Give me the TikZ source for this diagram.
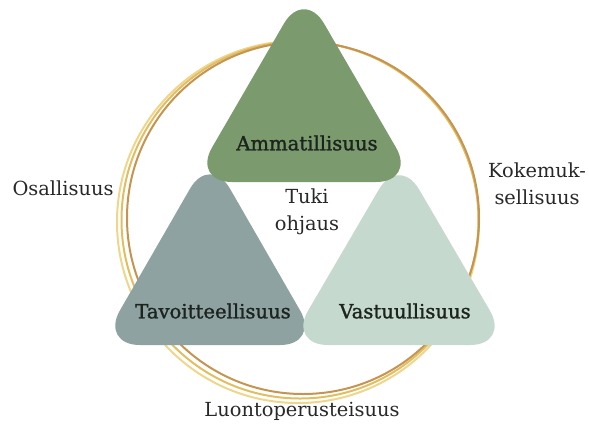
\documentclass[tikz,border=0pt]{standalone}
\usepackage{fontspec}
\setmainfont{DejaVu Serif}
\newfontfamily\labfont{DejaVu Serif}[FakeBold=1.3]
\usetikzlibrary{positioning}
\definecolor{ammcol}{RGB}{123, 154, 110}
\definecolor{tavcol}{RGB}{143, 162, 162}
\definecolor{vascol}{RGB}{198, 217, 206}
\definecolor{goldcol}{RGB}{226, 190, 98}
\definecolor{darkgold}{RGB}{196, 148, 80}
\definecolor{palegold}{RGB}{238, 214, 140}
\definecolor{txtcol}{RGB}{40, 40, 40}
\definecolor{labcol}{RGB}{28, 36, 30}
\tikzset{
  tri/.style    = {rounded corners=20pt, draw=none},
  strand/.style = {line width=1pt},
  lab/.style    = {font=\labfont\fontsize{9.8}{11}\selectfont, text=labcol,
                   inner sep=1pt},
  outer/.style  = {font=\fontsize{9.7}{13.5}\selectfont, text=txtcol,
                   align=center, inner sep=1pt},
}
\begin{document}
\begin{tikzpicture}[x=0.5pt, y=-0.5pt]
  \useasboundingbox (0,0) rectangle (589,425);

  %% the ring behind everything
  \draw[strand, palegold] (298,222) circle (181);
  \draw[strand, goldcol]  (300,220) circle (178.5);
  \draw[strand, darkgold] (303,218) circle (176);

  %% the three triangles
  \fill[tri, tavcol] (210,154) -- (320,345) -- (100,345) -- cycle;
  \fill[tri, vascol] (399,155) -- (510,345) -- (288,345) -- cycle;
  \fill[tri, ammcol] (304,-11) -- (416,182) -- (192,182) -- cycle;

  \node[lab] (amm) at (307,143) {Ammatillisuus};
  \node[lab] (tav) at (213,311) {Tavoitteellisuus};
  \node[lab] (vas) at (405,311) {Vastuullisuus};

  %% centre and outside
  \node[outer] (tuki) at (307,212) {Tuki\\ohjaus};
  \node[outer] (osa) at (63,188) {Osallisuus};
  \node[outer] (koke) at (537,184) {Kokemuk-\\sellisuus};
  \node[outer] (luonto) at (302,411) {Luontoperusteisuus};
\end{tikzpicture}
\end{document}
